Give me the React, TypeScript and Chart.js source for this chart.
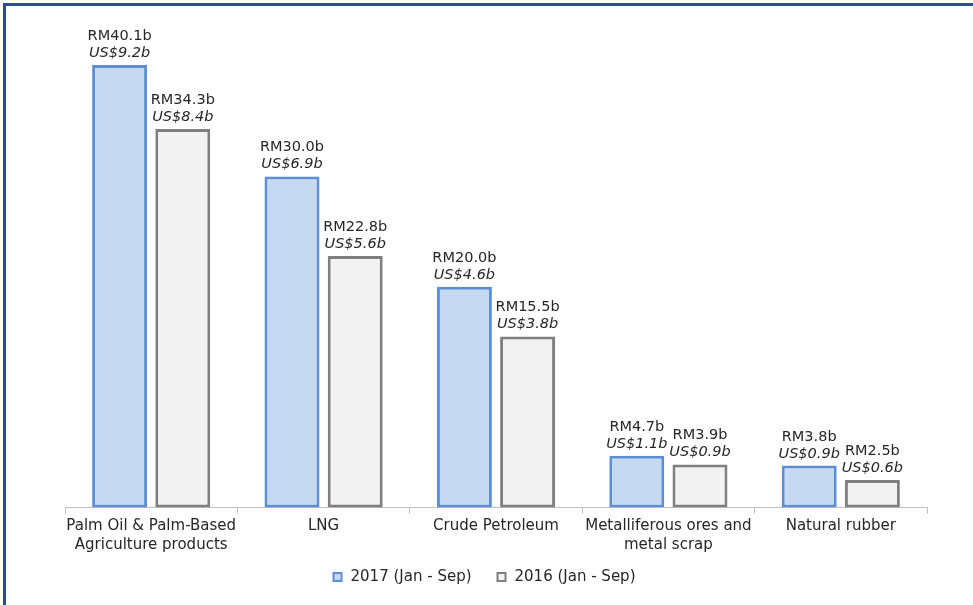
import React, { useEffect, useRef } from "react";
import { Chart, registerables } from "chart.js";

Chart.register(...registerables);

const categories: (string | string[])[] = [
  ["Palm Oil & Palm-Based", "Agriculture products"],
  "LNG",
  "Crude Petroleum",
  ["Metalliferous ores and", "metal scrap"],
  "Natural rubber",
];
const series2017RM = [40.1, 30.0, 20.0, 4.7, 3.8];
const series2016RM = [34.3, 22.8, 15.5, 3.9, 2.5];
const series2017US = ["9.2", "6.9", "4.6", "1.1", "0.9"];
const series2016US = ["8.4", "5.6", "3.8", "0.9", "0.6"];
const rmLabels2017 = ["40.1", "30.0", "20.0", "4.7", "3.8"];
const rmLabels2016 = ["34.3", "22.8", "15.5", "3.9", "2.5"];
const seriesNames = ["2017 (Jan - Sep)", "2016 (Jan - Sep)"];

const FONT = "'DejaVu Sans', sans-serif";

const labelPlugin = {
  id: "valueLabels",
  afterDatasetsDraw(chart: any) {
    const ctx = chart.ctx;
    chart.data.datasets.forEach((ds: any, di: number) => {
      const meta = chart.getDatasetMeta(di);
      const rm = di === 0 ? rmLabels2017 : rmLabels2016;
      const us = di === 0 ? series2017US : series2016US;
      meta.data.forEach((bar: any, i: number) => {
        ctx.save();
        ctx.fillStyle = "#262626";
        ctx.textAlign = "center";
        ctx.textBaseline = "alphabetic";
        ctx.font = `14.5px ${FONT}`;
        ctx.fillText(`RM${rm[i]}b`, bar.x, bar.y - 25);
        ctx.font = `italic 14.5px ${FONT}`;
        ctx.fillText(`US$${us[i]}b`, bar.x, bar.y - 8);
        ctx.restore();
      });
    });
  },
};

const legendPlugin = {
  id: "customLegend",
  afterDraw(chart: any) {
    const ctx = chart.ctx;
    const box = 10;
    const textGap = 8;
    const itemGap = 25;
    const cy = 577;
    ctx.save();
    ctx.font = `15px ${FONT}`;
    const items = chart.data.datasets.map((ds: any) => ({
      ds,
      w: box + textGap + ctx.measureText(ds.label).width,
    }));
    const total = items.reduce((s: number, it: any) => s + it.w, 0) + itemGap * (items.length - 1);
    let x = 484 - total / 2;
    items.forEach((it: any) => {
      ctx.fillStyle = it.ds.backgroundColor;
      ctx.strokeStyle = it.ds.borderColor;
      ctx.lineWidth = 2;
      ctx.fillRect(x + 1, cy - box / 2 + 1, box - 2, box - 2);
      ctx.strokeRect(x + 1, cy - box / 2 + 1, box - 2, box - 2);
      ctx.fillStyle = "#262626";
      ctx.textAlign = "left";
      ctx.textBaseline = "middle";
      ctx.fillText(it.ds.label, x + box + textGap, cy);
      x += it.w + itemGap;
    });
    ctx.restore();
  },
};

export default function App() {
  const ref = useRef<HTMLCanvasElement | null>(null);
  useEffect(() => {
    if (!ref.current) return;
    const chart = new Chart(ref.current, {
      type: "bar",
      data: {
        labels: categories,
        datasets: [
          {
            label: seriesNames[0],
            data: series2017RM,
            backgroundColor: "#C6D9F1",
            borderColor: "#5B8ED6",
            borderWidth: 3,
            borderSkipped: false,
            categoryPercentage: 0.733,
            barPercentage: 0.87,
          },
          {
            label: seriesNames[1],
            data: series2016RM,
            backgroundColor: "#F2F2F2",
            borderColor: "#7F7F7F",
            borderWidth: 3,
            borderSkipped: false,
            categoryPercentage: 0.733,
            barPercentage: 0.87,
          },
        ],
      },
      options: {
        responsive: false,
        animation: false,
        layout: { padding: { left: 0, right: 0, top: 22, bottom: 48 } },
        scales: {
          x: {
            grid: {
              display: true,
              drawOnChartArea: false,
              drawTicks: true,
              tickLength: 6,
              color: "#BFBFBF",
              offset: true,
            },
            border: { display: true, color: "#BFBFBF", width: 1 },
            ticks: {
              color: "#262626",
              font: { family: FONT, size: 15, lineHeight: 1.25 },
              padding: 3,
              maxRotation: 0,
              autoSkip: false,
            },
          },
          y: {
            display: true,
            position: "left",
            min: 0,
            max: 44,
            grid: { display: false },
            border: { display: false },
            ticks: { display: false },
            afterFit(scale: any) {
              scale.width = 65;
            },
          },
          y2: {
            display: true,
            position: "right",
            min: 0,
            max: 1,
            grid: { display: false },
            border: { display: false },
            ticks: { display: false },
            afterFit(scale: any) {
              scale.width = 46;
            },
          },
        },
        plugins: {
          legend: { display: false },
          tooltip: { enabled: false },
        },
      },
      plugins: [labelPlugin, legendPlugin],
    });
    return () => chart.destroy();
  }, []);

  return (
    <div style={{ position: "fixed", left: 0, top: 0, width: 973, height: 605, background: "#fff", overflow: "hidden" }}>
      <div
        style={{
          position: "absolute",
          left: 3,
          top: 3,
          right: 0,
          bottom: 0,
          borderLeft: "3px solid #2F4A9C",
          borderTop: "3px solid #2F4A9C",
        }}
      />
      <canvas ref={ref} width={973} height={605} style={{ position: "absolute", left: 0, top: 0 }} />
    </div>
  );
}
